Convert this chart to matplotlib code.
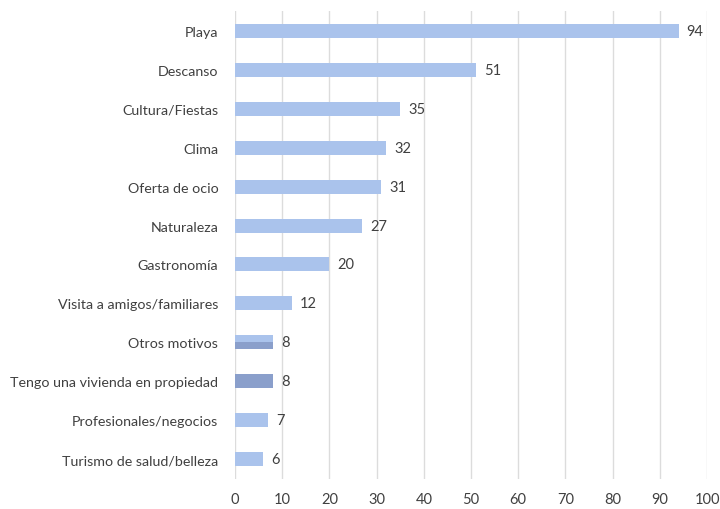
import matplotlib
matplotlib.use("Agg")
import matplotlib.pyplot as plt

categories = [
    "Playa", "Descanso", "Cultura/Fiestas", "Clima", "Oferta de ocio",
    "Naturaleza", "Gastronomía", "Visita a amigos/familiares",
    "Otros motivos", "Tengo una vivienda en propiedad",
    "Profesionales/negocios", "Turismo de salud/belleza",
]
values = [94, 51, 35, 32, 31, 27, 20, 12, 8, 8, 7, 6]
xticks = [0, 10, 20, 30, 40, 50, 60, 70, 80, 90, 100]

light = "#aac3ec"
dark = "#8a9fcb"
text_color = "#404040"

plt.rcParams["font.family"] = ["Lato", "DejaVu Sans"]

fig = plt.figure(figsize=(7.2, 5.1), dpi=100)
ax = fig.add_axes([0.3264, 0.0598, 0.6556, 0.9157])

pos = list(range(len(categories)))
h = 0.36
colors = [light] * len(categories)
colors[categories.index("Tengo una vivienda en propiedad")] = dark
ax.barh(pos, values, height=h, color=colors, zorder=3)

# "Otros motivos" is drawn in two tones: light upper half, darker lower half
i = categories.index("Otros motivos")
ax.barh(i + h / 4, values[i], height=h / 2, color=dark, zorder=4)

for p, v in zip(pos, values):
    ax.text(v + 1.7, p, str(v), va="center", ha="left",
            fontsize=10.5, color=text_color)

ax.set_ylim(len(categories) - 0.5, -0.5)
ax.set_xlim(0, 100)
ax.set_yticks(pos)
ax.set_yticklabels(categories, fontsize=10.3, color=text_color)
ax.set_xticks(xticks)
ax.set_xticklabels([str(t) for t in xticks], fontsize=10.5, color=text_color)
ax.tick_params(axis="both", length=0)
ax.tick_params(axis="y", pad=12)
ax.tick_params(axis="x", pad=10)
ax.grid(axis="x", color="#dcdcdc", linewidth=1, zorder=0)
for s in ax.spines.values():
    s.set_visible(False)

fig.savefig("out.png", dpi=100, facecolor="white")
